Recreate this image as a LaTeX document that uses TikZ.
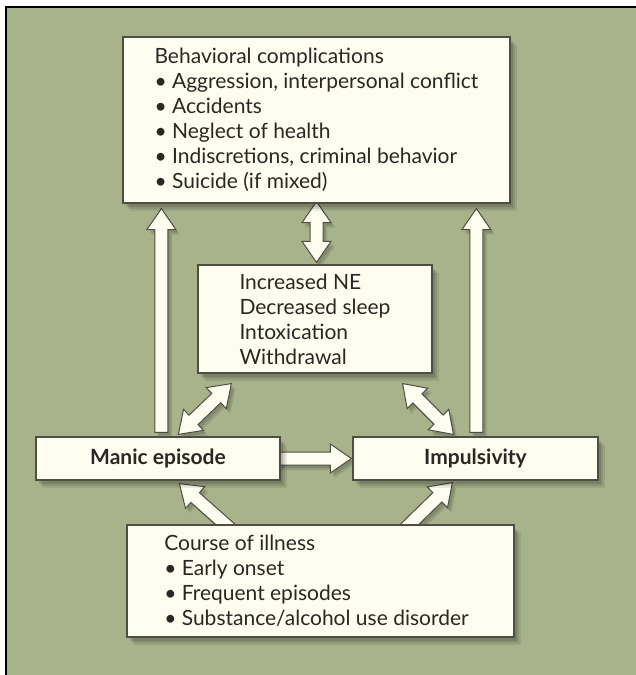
\documentclass[tikz,border=0pt]{standalone}
\usepackage{fontspec}
\setmainfont{Lato}
\usetikzlibrary{calc,shadows}
\definecolor{bgc}{RGB}{168,178,139}
\definecolor{boxfill}{RGB}{255,253,240}
\definecolor{boxline}{RGB}{78,78,68}
\definecolor{txt}{RGB}{40,40,36}
\pgfdeclarelayer{backlayer}
\pgfdeclarelayer{arrowlayer}
\pgfsetlayers{backlayer,arrowlayer,main}
\tikzset{
  softshadow/.style={
    drop shadow={shadow xshift=7pt, shadow yshift=-8pt, opacity=0.08, fill=black},
    drop shadow={shadow xshift=5pt, shadow yshift=-6pt, opacity=0.1, fill=black},
    drop shadow={shadow xshift=3pt, shadow yshift=-4pt, opacity=0.12, fill=black}},
  box/.style={draw=boxline, fill=boxfill, line width=1.2pt, rectangle, inner sep=0pt,
    softshadow, text=txt, font=\fontsize{21}{25}\selectfont, align=left},
  boldbox/.style={box, font=\fontsize{21}{25}\selectfont\bfseries},
  arrowsty/.style={draw=boxline, fill=boxfill, line width=1pt, line join=miter,
    drop shadow={shadow xshift=4pt, shadow yshift=-5pt, opacity=0.1, fill=black},
    drop shadow={shadow xshift=2.5pt, shadow yshift=-3pt, opacity=0.12, fill=black}}
}
\newcommand\fatarrow[3]{%
  \coordinate (#1-hd) at ($(#3)!21pt!(#2)$);
  \draw[arrowsty] ($(#2)!6.5pt!90:(#3)$) -- ($(#1-hd)!6.5pt!90:(#3)$) -- ($(#1-hd)!14.5pt!90:(#3)$)
    -- (#3) -- ($(#1-hd)!14.5pt!-90:(#3)$) -- ($(#1-hd)!6.5pt!-90:(#3)$) -- ($(#2)!6.5pt!-90:(#3)$) -- cycle;}
\newcommand\dblarrow[3]{%
  \coordinate (#1-ha) at ($(#2)!21pt!(#3)$);
  \coordinate (#1-hb) at ($(#3)!21pt!(#2)$);
  \draw[arrowsty] (#2) -- ($(#1-ha)!14.5pt!90:(#3)$) -- ($(#1-ha)!6.5pt!90:(#3)$)
    -- ($(#1-hb)!6.5pt!90:(#3)$) -- ($(#1-hb)!14.5pt!90:(#3)$) -- (#3)
    -- ($(#1-hb)!14.5pt!-90:(#3)$) -- ($(#1-hb)!6.5pt!-90:(#3)$)
    -- ($(#1-ha)!6.5pt!-90:(#3)$) -- ($(#1-ha)!14.5pt!-90:(#3)$) -- cycle;}
\begin{document}
\begin{tikzpicture}[x=1pt,y=-1pt]
\useasboundingbox (0,0) rectangle (636,675);
\begin{pgfonlayer}{backlayer}
  \fill[white] (0,0) rectangle (636,675);
  \fill[bgc] (6,7) rectangle (636,675);
  \draw[line width=2pt, black] (6,675) -- (6,7) -- (636,7);
\end{pgfonlayer}

\node[box, minimum width=387pt, minimum height=166pt] (top) at (316.5,120)
  {Behavioral complications\\
   • Aggression, interpersonal conflict\\
   • Accidents\\
   • Neglect of health\\
   • Indiscretions, criminal behavior\\
   • Suicide (if mixed)};
\node[box, minimum width=234pt, minimum height=108pt] (mid) at (315,319)
  {Increased NE\\ Decreased sleep\\ Intoxication\\ Withdrawal};
\node[boldbox, minimum width=244pt, minimum height=43pt] (manic) at (158,458.5) {Manic episode};
\node[boldbox, minimum width=245pt, minimum height=43pt] (imp) at (475.5,458.5) {Impulsivity};
\node[box, minimum width=387pt, minimum height=112pt] (course) at (320.5,581)
  {\hspace*{-8pt}Course of illness\\
   \hspace*{-8pt}• Early onset\\
   \hspace*{-8pt}• Frequent episodes\\
   \hspace*{-8pt}• Substance/alcohol use disorder};

\begin{pgfonlayer}{arrowlayer}
  % vertical arrows to behavioral complications
  \coordinate (lvb) at ([xshift=126pt,yshift=4pt]manic.north west);
  \coordinate (lvt) at ($(top.south -| lvb)+(0,5)$);
  \fatarrow{lv}{lvb}{lvt}
  \coordinate (rvb) at ([xshift=124pt,yshift=4pt]imp.north west);
  \coordinate (rvt) at ($(top.south -| rvb)+(0,5)$);
  \fatarrow{rv}{rvb}{rvt}
  % middle double arrow
  \coordinate (mdtop) at ([yshift=2pt]top.south);
  \coordinate (mdbot) at ($(mdtop |- mid.north)+(0,-2)$);
  \dblarrow{md}{mdtop}{mdbot}
  % diagonal double arrows
  \coordinate (dlu) at ($(mid.south west)+(34,10)$);
  \coordinate (dll) at ($(manic.north west)+(143,-2)$);
  \dblarrow{dl}{dlu}{dll}
  \coordinate (dru) at ($(mid.south east)+(-30,10)$);
  \coordinate (drl) at ($(imp.north west)+(101,-2)$);
  \dblarrow{dr}{dru}{drl}
  % horizontal arrow
  \coordinate (hs) at ([xshift=-4pt]manic.east);
  \coordinate (he) at ([xshift=-1pt]imp.west);
  \fatarrow{ho}{hs}{he}
  % bottom arrows
  \coordinate (bltail) at ($(course.north west)+(108,8)$);
  \coordinate (bltip) at ($(manic.south west)+(144,3)$);
  \fatarrow{bl}{bltail}{bltip}
  \coordinate (brtail) at ($(course.north west)+(275,8)$);
  \coordinate (brtip) at ($(imp.south west)+(100,2)$);
  \fatarrow{br}{brtail}{brtip}
\end{pgfonlayer}
\end{tikzpicture}
\end{document}
